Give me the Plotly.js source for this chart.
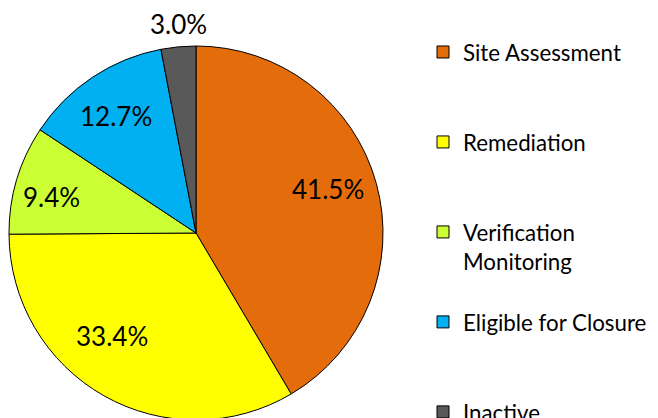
<!DOCTYPE html>
<html>
<head>
<meta charset="utf-8">
<script src="https://cdn.plot.ly/plotly-3.0.1.min.js"></script>
<style>
html,body{margin:0;padding:0;overflow:hidden;background:#fff;}
#chart{width:658px;height:520px;}
</style>
</head>
<body>
<div id="chart"></div>
<script>
const labels = ["Site Assessment", "Remediation", "Verification<br>Monitoring", "Eligible for Closure", "Inactive"];
const values = [41.5, 33.4, 9.4, 12.7, 3.0];
const colors = ["#E46C0A", "#FFFF00", "#CCFF33", "#00B0F0", "#595959"];

// label placement (best-fit style): radius as fraction of pie radius, angle nudge in degrees
const labelRadius = [0.742, 0.714, 0.794, 0.758, 1.122];
const labelAngleNudge = [-3.2, 9.7, -2.5, -0.7, 0.5];

const W = 658, H = 520;
const M = {l: 9, r: 275, t: 46, b: 0};
const plotW = W - M.l - M.r;   // 374
const plotH = H - M.t - M.b;   // 474
const pieSize = plotW;         // square pie box
const domainY = [1 - pieSize / plotH, 1];

// pad legend entries so each one occupies the same height
const legendLabels = labels.map(l => {
  const n = l.split("<br>").length;
  let s = l;
  for (let i = n; i < 3; i++) s += "<br> ";
  return s;
});

const trace = {
  type: "pie",
  labels: legendLabels,
  values: values,
  sort: false,
  direction: "clockwise",
  rotation: 0,
  marker: {colors: colors, line: {color: "#000000", width: 1}},
  textinfo: "none",
  hoverinfo: "none",
  domain: {x: [0, 1], y: domainY}
};

// percentage labels, placed from each slice's mid angle
const total = values.reduce((a, b) => a + b, 0);
const r = pieSize / 2;
const cxp = pieSize / 2, cyp = pieSize / 2; // in plot-area pixels from top-left
let cum = 0;
const annotations = values.map((v, i) => {
  const mid = (cum + v / 2) / total * 360 + labelAngleNudge[i];
  cum += v;
  const th = mid * Math.PI / 180;
  const px = cxp + labelRadius[i] * r * Math.sin(th);
  const py = cyp - labelRadius[i] * r * Math.cos(th);
  return {
    xref: "paper", yref: "paper",
    x: px / plotW, y: 1 - py / plotH,
    xanchor: "center", yanchor: "middle",
    text: (v / total * 100).toFixed(1) + "%",
    showarrow: false,
    font: {family: "Lato, sans-serif", size: 26, color: "#000000"}
  };
});

const layout = {
  width: W,
  height: H,
  margin: M,
  paper_bgcolor: "#ffffff",
  showlegend: true,
  annotations: annotations,
  legend: {
    x: (423 - M.l) / plotW, y: 1 + 15 / plotH, xanchor: "left", yanchor: "top",
    valign: "top",
    maxheight: 1000,
    font: {family: "Lato, sans-serif", size: 22.3, color: "#000000"},
    traceorder: "normal",
    itemclick: false
  }
};

Plotly.newPlot("chart", [trace], layout, {displayModeBar: false, staticPlot: true});
</script>
</body>
</html>
